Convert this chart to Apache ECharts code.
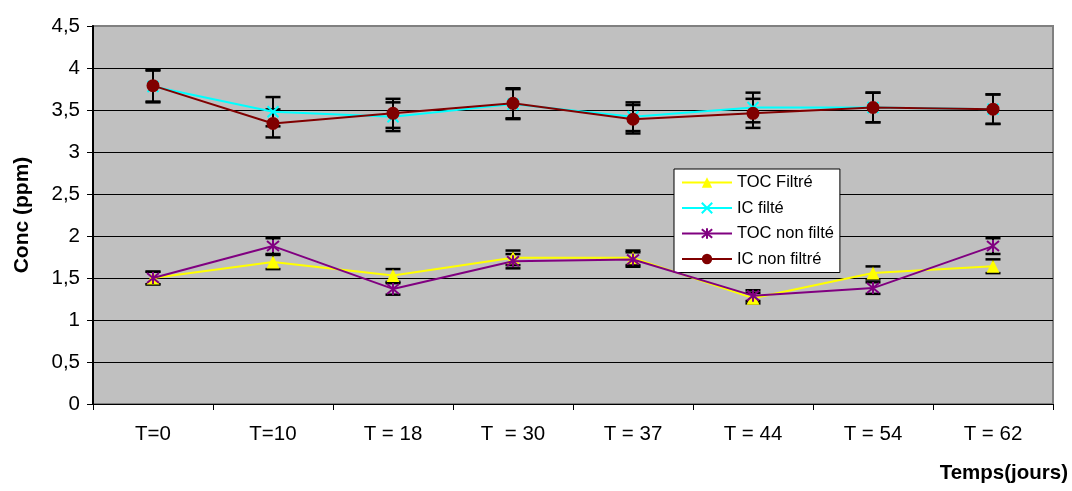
<!DOCTYPE html>
<html>
<head>
<meta charset="utf-8">
<script src="https://cdn.jsdelivr.net/npm/echarts@6/dist/echarts.min.js"></script>
<style>
html,body{margin:0;padding:0;background:#fff;}
#c{width:1072px;height:491px;}
</style>
</head>
<body>
<div id="c"></div>
<script>
const categories = ['T=0', 'T=10', 'T = 18', 'T  = 30', 'T = 37', 'T = 44', 'T = 54', 'T = 62'];
const tocFiltre = [1.50, 1.69, 1.53, 1.74, 1.74, 1.26, 1.56, 1.64];
const icFilte = [3.78, 3.48, 3.42, 3.57, 3.42, 3.53, 3.53, 3.51];
const tocNonFilte = [1.50, 1.88, 1.37, 1.70, 1.72, 1.29, 1.38, 1.88];
const icNonFiltre = [3.79, 3.34, 3.46, 3.58, 3.39, 3.46, 3.53, 3.51];
const yTicks = [0, 0.5, 1, 1.5, 2, 2.5, 3, 3.5, 4, 4.5];
const errorPct = 0.05; // percentage error bars

const FONT = '"Liberation Sans", Arial, sans-serif';
const crossPath = 'path://M0,0L10,10M10,0L0,10';
const starPath = 'path://M0,0L10,10M10,0L0,10M5,-1L5,11';

const seriesDefs = [
  {name: 'TOC Filtré', data: tocFiltre, color: '#FFFF00', symbol: 'triangle', size: 13, stroke: false},
  {name: 'IC filté', data: icFilte, color: '#00FFFF', symbol: crossPath, size: 11, stroke: true},
  {name: 'TOC non filté', data: tocNonFilte, color: '#800080', symbol: starPath, size: 12, stroke: true},
  {name: 'IC non filtré', data: icNonFiltre, color: '#800000', symbol: 'circle', size: 13, stroke: false}
];

function errorSeries(def) {
  return {
    type: 'custom',
    name: def.name + ' err',
    z: 1,
    silent: true,
    data: def.data.map((v, i) => [i, v * (1 - errorPct), v * (1 + errorPct)]),
    encode: {x: 0, y: [1, 2]},
    renderItem: function (params, api) {
      const x = api.value(0);
      const lo = api.coord([x, api.value(1)]);
      const hi = api.coord([x, api.value(2)]);
      const hw = 7.5;
      const st = {stroke: '#000', lineWidth: 2, fill: null};
      return {
        type: 'group',
        children: [
          {type: 'line', shape: {x1: lo[0], y1: lo[1], x2: hi[0], y2: hi[1]}, style: st},
          {type: 'line', shape: {x1: lo[0] - hw, y1: lo[1], x2: lo[0] + hw, y2: lo[1]}, style: {stroke: '#000', lineWidth: 2.5}},
          {type: 'line', shape: {x1: hi[0] - hw, y1: hi[1], x2: hi[0] + hw, y2: hi[1]}, style: {stroke: '#000', lineWidth: 2.5}}
        ]
      };
    }
  };
}

const lineSeries = seriesDefs.map((d, k) => ({
  type: 'line',
  name: d.name,
  data: d.data,
  z: 3 + k,
  symbol: d.symbol,
  symbolSize: d.size,
  showAllSymbol: true,
  lineStyle: {color: d.color, width: 2},
  itemStyle: d.stroke
    ? {color: d.color, borderColor: d.color, borderWidth: 2}
    : {color: d.color, borderWidth: 0},
  emphasis: {disabled: true},
  animation: false
}));

const splitColors = yTicks.map((t, i) => i === yTicks.length - 1 ? '#808080' : '#000');

const chart = echarts.init(document.getElementById('c'), null, {renderer: 'canvas'});
chart.setOption({
  animation: false,
  backgroundColor: '#fff',
  grid: {
    left: 93, right: 19, top: 26, bottom: 87,
    outerBoundsMode: 'none',
    containLabel: false,
    show: true, backgroundColor: '#C0C0C0', borderColor: '#808080', borderWidth: 2
  },
  xAxis: {
    type: 'category',
    data: categories,
    boundaryGap: true,
    axisLine: {show: true, lineStyle: {color: '#000', width: 1}},
    axisTick: {show: true, alignWithLabel: false, length: 6, lineStyle: {color: '#000'}},
    axisLabel: {color: '#000', fontFamily: FONT, fontSize: 20.5, margin: 20, interval: 0}
  },
  yAxis: {
    type: 'value',
    min: yTicks[0], max: yTicks[yTicks.length - 1], interval: 0.5,
    name: 'Conc (ppm)',
    nameLocation: 'middle',
    nameRotate: 90,
    nameGap: 60,
    nameTextStyle: {color: '#000', fontFamily: FONT, fontSize: 21, fontWeight: 'bold'},
    axisLine: {show: true, lineStyle: {color: '#000', width: 2}},
    axisTick: {show: true, length: 6, lineStyle: {color: '#000'}},
    axisLabel: {
      color: '#000', fontFamily: FONT, fontSize: 20.5, margin: 13,
      formatter: v => String(v).replace('.', ',')
    },
    splitLine: {show: true, lineStyle: {color: splitColors, width: 1}}
  },
  legend: {
    orient: 'vertical',
    left: 674, top: 169,
    data: seriesDefs.map(d => d.name),
    backgroundColor: '#fff',
    borderColor: '#000', borderWidth: 1,
    padding: [5, 6, 5, 7],
    itemWidth: 50, itemHeight: 13, itemGap: 8.5,
    textStyle: {color: '#000', fontFamily: FONT, fontSize: 16.5, lineHeight: 17},
    selectedMode: false
  },
  graphic: [{
    type: 'text',
    right: 4, top: 463,
    style: {text: 'Temps(jours)', fill: '#000', font: 'bold 20.5px ' + FONT}
  }],
  series: seriesDefs.map(errorSeries).concat(lineSeries)
});
</script>
</body>
</html>
